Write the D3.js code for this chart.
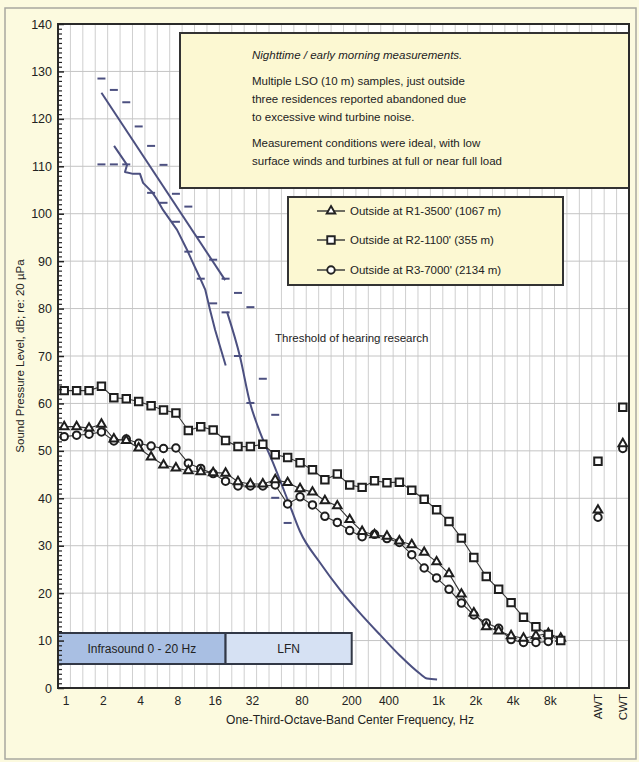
<!DOCTYPE html>
<html><head><meta charset="utf-8">
<script src="https://cdn.jsdelivr.net/npm/d3@7/dist/d3.min.js"></script>
<style>body{margin:0;background:#fff}text{font-family:"Liberation Sans",Arial,sans-serif;fill:#222}</style>
</head><body><svg id="c" width="639" height="762"></svg>
<script>
// ---------- DATA ----------
const bands = ["1","1.25","1.6","2","2.5","3.15","4","5","6.3","8","10","12.5","16","20","25","31.5","40","50","63","80","100","125","160","200","250","315","400","500","630","800","1k","1.25k","1.6k","2k","2.5k","3.15k","4k","5k","6.3k","8k","10k"];
const extraSlots = ["gapA","gapB","AWT","gapC","CWT"];
const tickBands  = ["1","2","4","8","16","31.5","80","200","400","1k","2k","4k","8k"];
const tickLabels = ["1","2","4","8","16","32","80","200","400","1k","2k","4k","8k"];
const yTicks = [0,10,20,30,40,50,60,70,80,90,100,110,120,130,140];

// R1 triangles
const r1 = [55.1,55.1,54.8,55.6,52.5,52.2,50.6,48.7,47.0,46.4,45.8,45.6,45.4,45.3,43.5,43.0,43.0,43.9,43.3,42.0,41.3,39.5,38.4,35.5,33.0,32.3,32.0,31.0,30.2,28.6,26.6,24.1,19.8,15.8,12.9,12.0,11.0,10.5,11.0,11.5,10.5];
// R2 squares
const r2 = [62.7,62.7,62.7,63.6,61.2,61.0,60.4,59.5,58.6,58.0,54.3,55.1,54.4,52.2,50.9,50.9,51.4,49.2,48.6,47.5,46.0,43.9,45.1,42.8,42.3,43.7,43.3,43.4,41.7,39.8,37.6,35.1,31.6,27.5,23.5,20.8,18.0,14.9,12.9,11.3,10.0];
// R3 circles
const r3 = [53.0,53.3,53.5,54.0,52.1,52.5,51.6,51.0,50.5,50.6,47.4,46.3,45.2,43.6,42.6,42.6,42.6,42.8,38.8,40.3,38.6,36.2,34.9,33.2,31.9,32.4,31.5,30.7,28.1,25.3,23.2,20.8,17.9,15.4,13.7,12.6,10.2,9.6,9.6,9.8,null];
const awtCwt = {AWT:[37.5,47.8,36.0], CWT:[51.5,59.2,50.5]};
const seriesNames = ["Outside at R1-3500' (1067 m)","Outside at R2-1100' (355 m)","Outside at R3-7000' (2134 m)"];

// threshold research lines (Hz, dB)
const threshUpperHz = [2,20];
const threshUpperDb = [125.5,86];
const threshLowerHz = [2.53,3.22,3.10,3.60,4.10,4.34,5.12,5.63,6.29,8.17,9.83,11.0,12.5,13.8,15.1,16.6,20.2];
const threshLowerDb = [114.3,110.3,108.8,108.4,108.4,106.5,104.6,103,100.8,96.6,92.4,89.6,86.5,84,79.7,75.5,68];
const hearingHz = [20.7,26.4,31.8,36.9,48.7,67.8,80.6,117,170,246,358,519,753,857,1033];
const hearingDb = [79.3,69.8,60.1,55,47.5,38.0,33,26.4,20.7,15.8,11.2,6.8,3.0,2.0,1.8];
const dashBands = ["2","2.5","3.15","4","5","6.3","2","2.5","3.15","5","6.3","8","10","8","12.5","10","16","12.5","20","25","16","31.5","20","25","40","31.5","50","50","63"];
const dashDb = [128.5,126.1,123.5,118.4,114.3,110.3,110.4,110.4,110.4,104.4,102.3,104.2,101.5,98.3,95.1,92.0,90.3,86.3,86.3,83.3,81.1,80.3,79.2,70.0,65.2,60.1,57.6,40.1,34.8];

const noteLines = ["Nighttime / early morning measurements.","Multiple LSO (10 m) samples, just outside","three residences reported abandoned due","to excessive wind turbine noise.","Measurement conditions were ideal, with low","surface winds and turbines at full or near full load"];
const zoneNames = ["Infrasound 0 - 20 Hz","LFN"];
const zoneEdges = [["1","20"],["20","200"]];

// ---------- LAYOUT ----------
const svg = d3.select("#c");
const L=58, R=629, T=24, B=688;
const slots = bands.concat(extraSlots);
const x = d3.scalePoint().domain(slots).range([L,R]).padding(0.5);
const step = x.step();
const xf = d3.scaleLog().base(2).domain([Math.pow(2,-0.5/3), Math.pow(2,45.5/3)]).range([L,R]);
const y = d3.scaleLinear().domain([0,140]).range([B,T]);
const lineCol = "#4c5080";

svg.append("rect").attr("width",639).attr("height",762).attr("fill","#fcfadf");
svg.append("rect").attr("x",5).attr("y",8).attr("width",631).attr("height",751).attr("fill","none").attr("stroke","#a8a8a0").attr("stroke-width",1.5);
svg.append("rect").attr("x",L).attr("y",T).attr("width",R-L).attr("height",B-T).attr("fill","#ffffff");

// grid
const g = svg.append("g");
g.selectAll("line.v").data(slots.slice(0,-1)).enter().append("line")
  .attr("x1",d=>x(d)+step/2).attr("x2",d=>x(d)+step/2).attr("y1",T).attr("y2",B)
  .attr("stroke","#cfcfcf").attr("stroke-width",1);
g.selectAll("line.h").data(yTicks.slice(1,-1)).enter().append("line")
  .attr("x1",L).attr("x2",R).attr("y1",d=>y(d)).attr("y2",d=>y(d))
  .attr("stroke","#c4c4c4").attr("stroke-width",1);

// zones
const zoneFill = ["#a9bfe3","#d6e1f3"];
zoneNames.forEach((n,i)=>{
  const x0 = i===0 ? L : x(zoneEdges[i][0]);
  const x1 = x(zoneEdges[i][1]) + (i===1 ? 2 : 0);
  svg.append("rect").attr("x",x0).attr("y",633).attr("width",x1-x0).attr("height",31)
    .attr("fill",zoneFill[i]).attr("stroke","#323846").attr("stroke-width",2);
  svg.append("text").attr("x",(x0+x1)/2).attr("y",652.5).attr("text-anchor","middle")
    .attr("font-size",12).text(n);
});

// note box
svg.append("rect").attr("x",180).attr("y",33).attr("width",449).attr("height",155)
  .attr("fill","#fcf8d2").attr("stroke","#333").attr("stroke-width",2);
const noteY = [59,85,103,121,147,165];
noteLines.forEach((t,i)=>svg.append("text").attr("x",252).attr("y",noteY[i]).attr("font-size",11.5)
  .attr("font-style",i===0?"italic":"normal").text(t));

// legend box
svg.append("rect").attr("x",288).attr("y",197).attr("width",275).attr("height",88)
  .attr("fill","#fcf8d2").attr("stroke","#333").attr("stroke-width",2);
const symTypes = [d3.symbolTriangle,d3.symbolSquare,d3.symbolCircle];
const symSizes = [32,56,44];
const legY = [211,240,270];
seriesNames.forEach((n,i)=>{
  svg.append("line").attr("x1",317).attr("x2",345).attr("y1",legY[i]).attr("y2",legY[i]).attr("stroke","#333").attr("stroke-width",1.4);
  svg.append("path").attr("d",d3.symbol().type(symTypes[i]).size(symSizes[i])()).attr("transform",`translate(331,${legY[i]})`)
    .attr("fill","#fff").attr("stroke","#222").attr("stroke-width",1.9);
  svg.append("text").attr("x",350).attr("y",legY[i]+4).attr("font-size",11.5).text(n);
});

// threshold text
svg.append("text").attr("x",275).attr("y",342).attr("font-size",11.5).text("Threshold of hearing research");

// threshold lines
const lf = d3.line().curve(d3.curveMonotoneX).x(d=>xf(d[0])).y(d=>y(d[1]));
const lfs = d3.line().x(d=>xf(d[0])).y(d=>y(d[1]));
svg.append("path").attr("d",lfs(threshUpperHz.map((h,i)=>[h,threshUpperDb[i]]))).attr("fill","none").attr("stroke",lineCol).attr("stroke-width",2);
svg.append("path").attr("d",lfs(threshLowerHz.map((h,i)=>[h,threshLowerDb[i]]))).attr("fill","none").attr("stroke",lineCol).attr("stroke-width",2).attr("stroke-linejoin","round");
svg.append("path").attr("d",lf(hearingHz.map((h,i)=>[h,hearingDb[i]]))).attr("fill","none").attr("stroke",lineCol).attr("stroke-width",2);
svg.selectAll("line.dash").data(dashBands.map((b,i)=>[b,dashDb[i]])).enter().append("line")
  .attr("x1",d=>x(d[0])-4).attr("x2",d=>x(d[0])+4).attr("y1",d=>y(d[1])).attr("y2",d=>y(d[1]))
  .attr("stroke",lineCol).attr("stroke-width",2);

// series
const allSeries = [r1,r2,r3];
const ls = d3.line().defined(d=>d[1]!=null).x(d=>x(d[0])).y(d=>y(d[1]));
allSeries.forEach((s,i)=>{
  svg.append("path").attr("d",ls(bands.map((b,j)=>[b,s[j]]))).attr("fill","none").attr("stroke","#333").attr("stroke-width",1.1);
});
[2,0,1].forEach(i=>{
  const s = allSeries[i];
  const pts = bands.map((b,j)=>[b,s[j]]).filter(d=>d[1]!=null)
    .concat(["AWT","CWT"].map(k=>[k,awtCwt[k][i]]));
  svg.append("g").selectAll("path").data(pts).enter().append("path")
    .attr("d",d3.symbol().type(symTypes[i]).size(symSizes[i])())
    .attr("transform",d=>`translate(${x(d[0])},${y(d[1])})`)
    .attr("fill","#fff").attr("stroke","#1e1e1e").attr("stroke-width",2);
});

// frame
svg.append("rect").attr("x",L).attr("y",T).attr("width",R-L).attr("height",B-T).attr("fill","none").attr("stroke","#2a2a2a").attr("stroke-width",2);

// y axis
const ya = svg.append("g").attr("transform",`translate(${L},0)`)
  .call(d3.axisLeft(y).tickValues(yTicks).tickSize(-6).tickPadding(6));
ya.select(".domain").remove();
ya.selectAll("text").attr("font-size",12.5).attr("fill","#222").style("font-family","Liberation Sans, Arial");
ya.selectAll("line").attr("stroke","#222").attr("stroke-width",1.5);
const ym = svg.append("g").attr("transform",`translate(${L},0)`)
  .call(d3.axisLeft(y).tickValues(d3.range(0,141).filter(v=>v%10)).tickSize(-4).tickFormat(""));
ym.select(".domain").remove();
ym.selectAll("line").attr("stroke","#222").attr("stroke-width",1.2);

// x labels
svg.selectAll("text.xt").data(tickBands).enter().append("text")
  .attr("x",d=>x(d)+2).attr("y",705).attr("text-anchor","middle").attr("font-size",12)
  .text((d,i)=>tickLabels[i]);
["AWT","CWT"].forEach(k=>{
  svg.append("text").attr("transform",`translate(${x(k)+4},694) rotate(-90)`).attr("text-anchor","end").attr("font-size",11.5).text(k);
});
svg.append("text").attr("x",350).attr("y",724).attr("text-anchor","middle").attr("font-size",12).text("One-Third-Octave-Band Center Frequency, Hz");
svg.append("text").attr("transform","translate(24,356) rotate(-90)").attr("text-anchor","middle").attr("font-size",11.5).text("Sound Pressure Level, dB; re: 20 µPa");
</script></body></html>
